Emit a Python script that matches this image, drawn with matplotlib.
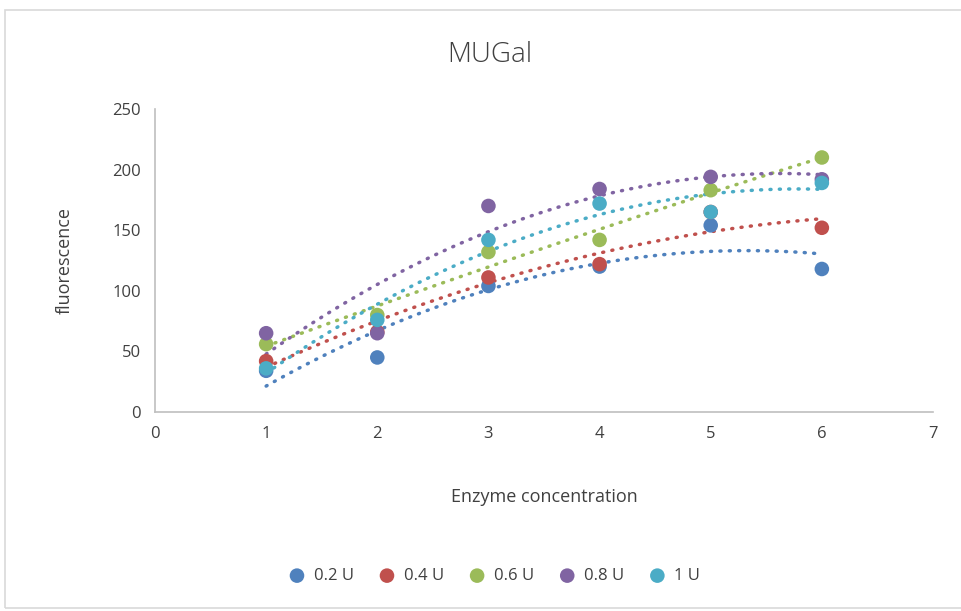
import numpy as np
import matplotlib
matplotlib.use("Agg")
import matplotlib.pyplot as plt
from matplotlib.patches import Rectangle

plt.rcParams['font.family'] = ['Open Sans', 'DejaVu Sans']

# enzyme concentration and measured fluorescence per substrate amount
conc = [1, 2, 3, 4, 5, 6]
labels = ["0.2 U", "0.4 U", "0.6 U", "0.8 U", "1 U"]
u02 = [34, 45, 104, 120, 154, 118]
u04 = [42, 66, 111, 122, 165, 152]
u06 = [56, 80, 132, 142, 183, 210]
u08 = [65, 65, 170, 184, 194, 192]
u10 = [36, 76, 142, 172, 165, 189]
series = [u02, u04, u06, u08, u10]
colors = ["#4F81BD", "#C0504D", "#9BBB59", "#8064A2", "#4BACC6"]

fig = plt.figure(figsize=(9.61, 6.11), dpi=100)
fig.patches.append(Rectangle((5 / 961, 0.005), 0.999, 1 - 13 / 611, transform=fig.transFigure,
                             fill=False, edgecolor="#d9d9d9", linewidth=1.2))
ax = fig.add_axes([155 / 961, 1 - 412 / 611, (933 - 155) / 961, (412 - 109) / 611])

x = np.array(conc, dtype=float)
xs = np.linspace(1, 6, 100)
for ys, lab, c in zip(series, labels, colors):
    ax.scatter(x, ys, s=110, color=c, label=lab, zorder=3, edgecolors="none")
    # excel style 2nd order polynomial trendline
    p = np.polyfit(x, ys, 2)
    ax.plot(xs, np.polyval(p, xs), color=c, linestyle=(0, (0.3, 2.4)), linewidth=2.5,
            dash_capstyle="round", zorder=2)

ax.set_xlim(0, 7)
ax.set_ylim(0, 250)
ax.set_xticks(range(0, 8))
ax.set_yticks(range(0, 251, 50))
for s in ["top", "right"]:
    ax.spines[s].set_visible(False)
for s in ["left", "bottom"]:
    ax.spines[s].set_color("#bfbfbf")
    ax.spines[s].set_linewidth(1.2)
ax.tick_params(length=0, labelsize=12, labelcolor="#404040", pad=10)

ax.set_xlabel("Enzyme concentration", fontsize=13, color="#404040", labelpad=33)
ax.set_ylabel("fluorescence", fontsize=13, color="#404040", labelpad=28)
fig.text(490 / 961, 1 - 55 / 611, "MUGal", ha="center", va="center", fontsize=20,
         color="#404040", fontweight="light")

fig.legend(loc="center", bbox_to_anchor=(0.51, 1 - 576 / 611), ncol=5, frameon=False,
           fontsize=12, handletextpad=0.0, columnspacing=1.0, markerscale=1.0,
           labelcolor="#404040")

fig.savefig("out.png", dpi=100)
